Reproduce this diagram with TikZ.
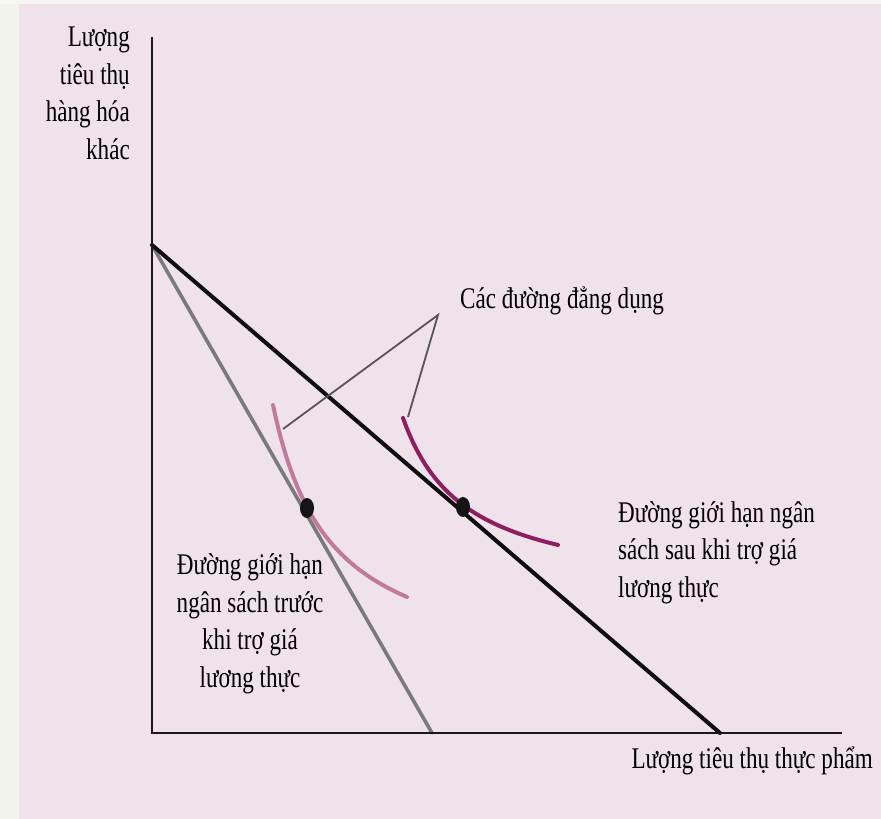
\documentclass[tikz,border=0pt]{standalone}
\usepackage{fontspec}
\setmainfont[FakeStretch=0.77]{Liberation Serif}
\usetikzlibrary{shapes.geometric}
\definecolor{bgpink}{RGB}{240,226,234}
\definecolor{stripcol}{RGB}{242,244,235}
\definecolor{topcol}{RGB}{246,246,242}
\definecolor{lowcurve}{RGB}{194,122,156}
\definecolor{upcurve}{RGB}{142,31,94}
\definecolor{grayline}{RGB}{122,122,122}
\definecolor{pointer}{RGB}{85,85,85}
\tikzset{
  lbl/.style={inner sep=0pt, font=\fontsize{30}{37.5}\selectfont, text=black},
  axisline/.style={line width=2.6pt, draw={rgb,255:red,25;green,25;blue,25}},
  budget/.style={line width=4pt, line cap=round},
  icurve/.style={line width=4pt, line cap=round},
  ptr/.style={line width=1.8pt, draw=pointer},
  dotnode/.style={ellipse, fill={rgb,255:red,20;green,20;blue,20}, minimum width=14pt, minimum height=20pt, inner sep=0pt}
}
\begin{document}
\begin{tikzpicture}[x=1pt,y=-1pt]
\useasboundingbox (0,0) rectangle (881,819);
\fill[bgpink] (0,0) rectangle (881,819);
\fill[stripcol] (0,0) rectangle (19,819);
\fill[topcol] (0,0) rectangle (881,4);
% coordinates
\coordinate (O) at (152,733);
\coordinate (Ytop) at (152,37);
\coordinate (Xend) at (842,733);
\coordinate (A) at (152,245);
\coordinate (G) at (432,733);
\coordinate (B) at (720,733);
\coordinate (apex) at (438,315);
\coordinate (p1) at (283,429);
\coordinate (p2) at (408,417);
% indifference curves
\draw[icurve, draw=lowcurve] plot[domain=273:407, samples=50] (\x, {679.2 - 15739/(\x - 215.6)});
\draw[icurve, draw=upcurve] plot[domain=403:558, samples=50] (\x, {596.9 - 11344/(\x - 339.6)});
% budget lines
\draw[budget, draw=grayline, line width=3.6pt] (A) -- (G);
\draw[budget, draw={rgb,255:red,15;green,15;blue,15}] (A) -- (B);
% pointer lines
\draw[ptr] (p1) -- (apex) -- (p2);
% axes
\draw[axisline] (Ytop) -- (O) -- (Xend);
% dots
\node[dotnode] (d1) at (307,508) {};
\node[dotnode] (d2) at (463,507) {};
% labels (base anchor = last line's baseline)
\node[lbl, align=right, anchor=base east] (ylab) at (130,159) {Lượng\\tiêu thụ\\hàng hóa\\khác};
\node[lbl, anchor=base east] (xlab) at (873,768) {Lượng tiêu thụ thực phẩm};
\node[lbl, anchor=base west] (iclab) at (460,308) {Các đường đẳng dụng};
\node[lbl, align=left, anchor=base west] (lafter) at (618,597) {Đường giới hạn ngân\\sách sau khi trợ giá\\lương thực};
\node[lbl, align=center, anchor=base] (lbefore) at (250,687) {Đường giới hạn\\ngân sách trước\\khi trợ giá\\lương thực};
\end{tikzpicture}
\end{document}
